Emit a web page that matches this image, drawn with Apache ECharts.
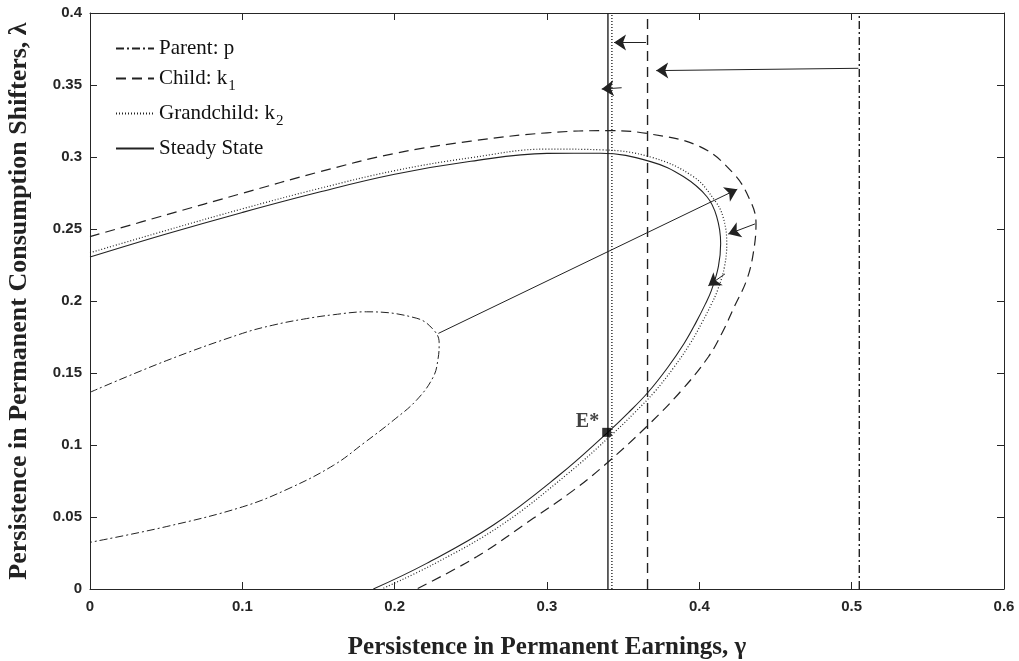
<!DOCTYPE html>
<html>
<head>
<meta charset="utf-8">
<script src="https://cdn.jsdelivr.net/npm/echarts@6/dist/echarts.min.js"></script>
<style>
  html, body { margin: 0; padding: 0; background: #fff; }
  #chart { width: 1019px; height: 661px; }
</style>
</head>
<body>
<div id="chart"></div>
<script>
// curves, [gamma, lambda], in drawing order
const steadyState = [
  [0, 0.2305], [0.05, 0.2465], [0.1, 0.2615], [0.15, 0.2755], [0.2, 0.288],
  [0.25, 0.297], [0.3, 0.3025], [0.335, 0.3026], [0.368, 0.2968], [0.3895, 0.2864],
  [0.405, 0.2724], [0.4114, 0.2586], [0.414, 0.240], [0.4125, 0.2238], [0.408, 0.2076],
  [0.404, 0.198], [0.398, 0.1855], [0.390, 0.1705], [0.379, 0.1535], [0.3665, 0.1368],
  [0.3535, 0.1225], [0.3392, 0.1081], [0.3085, 0.0795], [0.2648, 0.0444], [0.221, 0.0178],
  [0.186, 0]
];
const grandchild = [
  [0, 0.2335], [0.05, 0.249], [0.1, 0.264], [0.15, 0.278], [0.2, 0.2905],
  [0.25, 0.2995], [0.3, 0.3055], [0.335, 0.305], [0.368, 0.300], [0.396, 0.2864],
  [0.410, 0.270], [0.4155, 0.2586], [0.418, 0.240], [0.4165, 0.2238], [0.412, 0.2076],
  [0.408, 0.198], [0.402, 0.1855], [0.394, 0.1705], [0.383, 0.1535], [0.3705, 0.1368],
  [0.3575, 0.1225], [0.3435, 0.1081], [0.313, 0.0795], [0.2695, 0.044], [0.226, 0.0175],
  [0.1915, 0]
];
const child = [
  [0, 0.2447], [0.05, 0.2598], [0.1, 0.2748], [0.15, 0.2895], [0.2, 0.3025],
  [0.25, 0.311], [0.3, 0.3168], [0.3414, 0.3183], [0.3676, 0.316], [0.4004, 0.3072],
  [0.4223, 0.2887], [0.4333, 0.270], [0.4372, 0.254], [0.4354, 0.2331], [0.4311, 0.2146],
  [0.4234, 0.197], [0.415, 0.178], [0.406, 0.1613], [0.388, 0.1375], [0.3665, 0.1139],
  [0.3392, 0.0873], [0.3173, 0.0685], [0.291, 0.0491], [0.2538, 0.0224], [0.2144, 0]
];
const parent = [
  [0, 0.1366], [0.05, 0.1585], [0.1, 0.1775], [0.12, 0.1832], [0.14, 0.1874],
  [0.16, 0.1905], [0.1816, 0.1925], [0.2145, 0.188], [0.2255, 0.180], [0.2292, 0.171],
  [0.2285, 0.160], [0.2254, 0.1474], [0.2145, 0.1313], [0.199, 0.117], [0.18, 0.1015],
  [0.16, 0.086], [0.13, 0.0695], [0.1, 0.057], [0.05, 0.0433], [0, 0.0324]
];

// vertical lines (gamma values)
const parentGamma = 0.505;
const childGamma = 0.366;
const grandchildGamma = 0.3426;
const steadyGamma = 0.34;

// arrows: [x1, y1, x2, y2], head at the second point
const arrows = [
  [0.2287, 0.1775, 0.4249, 0.2776],
  [0.5044, 0.3616, 0.3717, 0.360],
  [0.365, 0.3795, 0.344, 0.3795],
  [0.349, 0.3481, 0.3359, 0.3472],
  [0.4365, 0.2535, 0.419, 0.2465],
  [0.4168, 0.2188, 0.4059, 0.2106]
];

const equilibrium = [0.3392, 0.1088];

const legendNames = ['Parent: p', 'Child: k1', 'Grandchild: k2', 'Steady State'];
const legendLabels = {
  'Parent: p': 'Parent: p',
  'Child: k1': 'Child: k{sub|1}',
  'Grandchild: k2': 'Grandchild: k{sub|2}',
  'Steady State': 'Steady State'
};

const ink = '#222';
const serif = '"Liberation Serif", "DejaVu Serif", serif';
const sans = '"Liberation Sans", Arial, sans-serif';

const styles = {
  'Parent: p': { type: [8, 3, 2, 3], width: 1 },
  'Child: k1': { type: [10, 6], width: 1.2 },
  'Grandchild: k2': { type: [1, 2], width: 1.2 },
  'Steady State': { type: 'solid', width: 1.1 }
};

function curve(name, data) {
  return {
    name, type: 'line', data, smooth: 0.4, symbol: 'none', z: 3,
    itemStyle: { color: ink },
    lineStyle: { color: ink, width: styles[name].width, type: styles[name].type }
  };
}

function vline(name, x) {
  return {
    name, type: 'line', data: [[x, 0], [x, 0.4]], symbol: 'none', z: 3,
    itemStyle: { color: ink },
    lineStyle: { color: ink, width: 1.4, type: styles[name].type }
  };
}

const chart = echarts.init(document.getElementById('chart'));

const axisCommon = {
  type: 'value',
  axisLine: { show: true, onZero: false, lineStyle: { color: '#262626', width: 1 } },
  axisTick: { show: true, inside: true, length: 7, lineStyle: { color: '#262626' } },
  splitLine: { show: false }
};

chart.setOption({
  animation: false,
  backgroundColor: '#fff',
  grid: { left: 90, right: 15, top: 13, bottom: 72, containLabel: false, outerBoundsMode: 'none' },
  legend: {
    data: legendNames,
    orient: 'vertical',
    left: 110,
    top: 33,
    itemWidth: 38,
    itemHeight: 14,
    itemGap: 9,
    itemStyle: { opacity: 0 },
    formatter: (n) => legendLabels[n],
    textStyle: {
      fontFamily: serif, fontSize: 21, color: '#111',
      rich: { sub: { fontFamily: serif, fontSize: 15, verticalAlign: 'bottom', padding: [16, 0, 0, 1] } }
    }
  },
  xAxis: [
    Object.assign({}, axisCommon, {
      min: 0, max: 0.6, interval: 0.1,
      name: 'Persistence in Permanent Earnings, γ',
      nameLocation: 'middle', nameGap: 46,
      nameTextStyle: { fontFamily: serif, fontWeight: 'bold', fontSize: 25, color: '#222' },
      axisLabel: { fontFamily: sans, fontWeight: 'bold', fontSize: 15, color: '#262626', margin: 10 }
    }),
    Object.assign({}, axisCommon, {
      position: 'top', min: 0, max: 0.6, interval: 0.1, axisLabel: { show: false }
    })
  ],
  yAxis: [
    Object.assign({}, axisCommon, {
      min: 0, max: 0.4, interval: 0.05,
      name: 'Persistence in Permanent Consumption Shifters, λ',
      nameLocation: 'middle', nameGap: 58,
      nameTextStyle: { fontFamily: serif, fontWeight: 'bold', fontSize: 26, color: '#222' },
      axisLabel: { fontFamily: sans, fontWeight: 'bold', fontSize: 15, color: '#262626', margin: 8 }
    }),
    Object.assign({}, axisCommon, {
      position: 'right', min: 0, max: 0.4, interval: 0.05, axisLabel: { show: false }
    })
  ],
  series: [
    curve('Parent: p', parent),
    vline('Parent: p', parentGamma),
    curve('Child: k1', child),
    vline('Child: k1', childGamma),
    curve('Grandchild: k2', grandchild),
    vline('Grandchild: k2', grandchildGamma),
    curve('Steady State', steadyState),
    vline('Steady State', steadyGamma),
    {
      type: 'lines',
      coordinateSystem: 'cartesian2d',
      symbol: ['none', 'arrow'],
      symbolSize: 12,
      z: 4,
      lineStyle: { color: ink, width: 1, opacity: 1, curveness: 0 },
      data: arrows.map(a => ({ coords: [[a[0], a[1]], [a[2], a[3]]] }))
    },
    {
      type: 'scatter',
      data: [equilibrium],
      symbol: 'rect',
      symbolSize: 9,
      z: 5,
      itemStyle: { color: '#000' },
      label: {
        show: true, formatter: 'E*', position: 'left', distance: 3, offset: [0, -10],
        fontFamily: serif, fontWeight: 'bold', fontSize: 20, color: '#111'
      }
    }
  ]
});
</script>
</body>
</html>
